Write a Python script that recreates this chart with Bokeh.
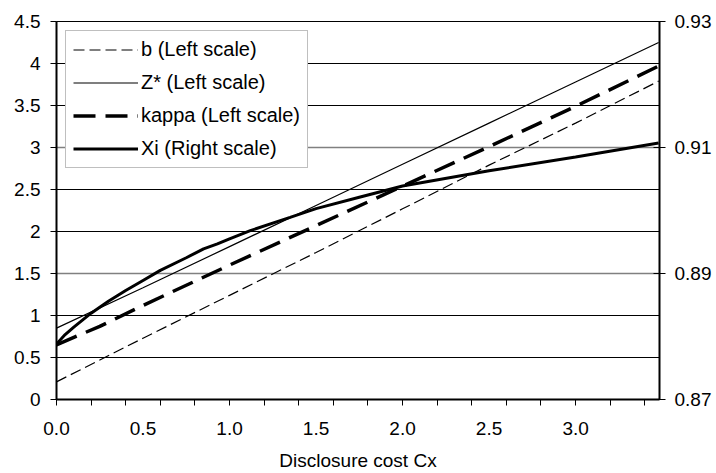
from bokeh.plotting import figure
from bokeh.models import (Range1d, LinearAxis, FixedTicker, Grid, Legend, LegendItem,
                          CustomJSTickFormatter)
from bokeh.embed import file_html
from bokeh.resources import INLINE

# ---- data ----
x_lin = [0.0, 0.5, 1.0, 1.5, 2.0, 2.5, 3.0, 3.48]
b_vals = [0.21, 0.73, 1.24, 1.75, 2.27, 2.79, 3.29, 3.79]
z_vals = [0.85, 1.33, 1.82, 2.31, 2.80, 3.29, 3.78, 4.25]

x_kappa = [0.0, 0.1, 0.25, 0.5, 1.0, 1.5, 2.0, 2.5, 3.0, 3.48]
kappa_vals = [0.65, 0.74, 0.87, 1.12, 1.60, 2.07, 2.54, 3.01, 3.49, 3.97]

x_xi = [0.0, 0.05, 0.1, 0.2, 0.3, 0.4, 0.5, 0.6, 0.75, 0.85, 0.93, 1.0, 1.12,
        1.35, 1.5, 1.75, 2.0, 2.5, 3.0, 3.48]
xi_vals = [0.8788, 0.8803, 0.8815, 0.8837, 0.8856, 0.8873, 0.8889, 0.8905,
           0.8925, 0.8939, 0.8947, 0.8955, 0.8968, 0.8989, 0.9003, 0.9021,
           0.9039, 0.9063, 0.9085, 0.9107]

x_label_ticks = [0.0, 0.5, 1.0, 1.5, 2.0, 2.5, 3.0]
x_minor_ticks = [0.0, 0.2, 0.4, 0.6, 0.8, 1.0, 1.2, 1.4, 1.6, 1.8, 2.0, 2.2, 2.4,
                 2.6, 2.8, 3.0, 3.2, 3.4]
left_ticks = [0, 0.5, 1, 1.5, 2, 2.5, 3, 3.5, 4, 4.5]
right_ticks = [0.87, 0.89, 0.91, 0.93]

legend_labels = ["b (Left scale)", "Z* (Left scale)", "kappa (Left scale)",
                 "Xi (Right scale)"]

FONT = "Liberation Sans"

p = figure(frame_width=603, frame_height=378,
           x_range=Range1d(0, 3.485), y_range=Range1d(0, 4.5),
           output_backend="svg", toolbar_location=None,
           min_border_left=56, min_border_top=21, min_border_right=5,
           min_border_bottom=5)
p.extra_y_ranges = {"right": Range1d(0.87, 0.93)}
p.background_fill_color = "white"
p.border_fill_color = "white"
p.outline_line_color = "black"
p.outline_line_width = 1

# grids
p.xgrid.visible = False
p.ygrid.visible = False
p.add_layout(Grid(dimension=1, ticker=FixedTicker(ticks=[0.5, 1, 2, 2.5, 3.5, 4, 4.5]),
                  grid_line_color="black", grid_line_width=1))
p.add_layout(Grid(dimension=1, ticker=FixedTicker(ticks=[1.5, 3]),
                  grid_line_color="#808080", grid_line_width=1.5))

# x axis
xa = p.xaxis[0]
xa.ticker = FixedTicker(ticks=x_label_ticks, minor_ticks=x_minor_ticks)
xa.formatter = CustomJSTickFormatter(code="return tick.toFixed(1);")
xa.axis_line_width = 2
xa.axis_line_color = "black"
xa.major_tick_out = 0
xa.major_tick_in = 0
xa.minor_tick_out = 6
xa.minor_tick_in = 0
xa.minor_tick_line_color = "black"
xa.major_label_standoff = 16
xa.major_label_text_font = FONT
xa.major_label_text_font_size = "19px"
xa.major_label_text_color = "black"
xa.axis_label = "Disclosure cost Cx"
xa.axis_label_text_font = FONT
xa.axis_label_text_font_size = "19px"
xa.axis_label_text_font_style = "normal"
xa.axis_label_text_color = "black"
xa.axis_label_standoff = 12

# left axis
ya = p.yaxis[0]
ya.ticker = FixedTicker(ticks=left_ticks)
ya.formatter = CustomJSTickFormatter(code="return tick.toString();")
ya.axis_line_width = 2
ya.axis_line_color = "black"
ya.major_tick_out = 6
ya.major_tick_in = 0
ya.minor_tick_out = 0
ya.minor_tick_in = 0
ya.major_label_standoff = 10
ya.major_label_text_font = FONT
ya.major_label_text_font_size = "19px"
ya.major_label_text_color = "black"

# right axis
ra = LinearAxis(y_range_name="right", ticker=FixedTicker(ticks=right_ticks))
ra.axis_line_width = 2
ra.axis_line_color = "black"
ra.major_tick_out = 6
ra.major_tick_in = 6
ra.minor_tick_out = 0
ra.minor_tick_in = 0
ra.major_label_standoff = 9
ra.major_label_text_font = FONT
ra.major_label_text_font_size = "19px"
ra.major_label_text_color = "black"
p.add_layout(ra, "right")

# lines
r_b = p.line(x_lin, b_vals, line_color="black", line_width=1.2, line_dash="11 5")
r_z = p.line(x_lin, z_vals, line_color="black", line_width=1.2)
r_k = p.line(x_kappa, kappa_vals, line_color="black", line_width=3.5, line_dash="22 10")
r_xi = p.line(x_xi, xi_vals, line_color="black", line_width=3, y_range_name="right")

legend = Legend(items=[LegendItem(label=legend_labels[0], renderers=[r_b]),
                       LegendItem(label=legend_labels[1], renderers=[r_z]),
                       LegendItem(label=legend_labels[2], renderers=[r_k]),
                       LegendItem(label=legend_labels[3], renderers=[r_xi])],
                location="top_left")
legend.margin = 9
legend.padding = 7
legend.spacing = 10
legend.glyph_width = 65
legend.glyph_height = 23
legend.label_height = 23
legend.label_standoff = 3
legend.label_text_font = FONT
legend.label_text_font_size = "20px"
legend.label_text_color = "black"
legend.border_line_color = "#808080"
legend.border_line_width = 1
legend.background_fill_color = "white"
legend.background_fill_alpha = 1
p.add_layout(legend, "center")

open("out.html", "w").write(file_html(p, INLINE))
